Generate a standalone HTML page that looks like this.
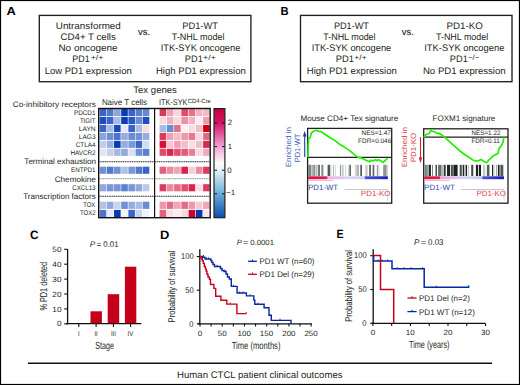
<!DOCTYPE html>
<html><head><meta charset="utf-8"><style>
html,body{margin:0;padding:0;background:#fff;width:520px;height:385px;overflow:hidden;}
svg{display:block;}
text{font-family:"Liberation Sans", sans-serif;text-rendering:geometricPrecision;}
</style></head><body>
<svg width="520" height="385" viewBox="0 0 520 385">
<rect width="520" height="385" fill="#fff"/>
<g fill="#231f20">
<rect x="0.5" y="0.5" width="519" height="384" fill="none" stroke="#000" stroke-width="1.2"/>
<line x1="28" y1="363.3" x2="492" y2="363.3" stroke="#111" stroke-width="1.4"/>
<text x="177.05" y="377.60" font-size="9.6">Human CTCL patient clinical outcomes</text>
<text x="6.58" y="15.10" font-size="11.6" font-weight="bold" fill="#000" textLength="9.34" lengthAdjust="spacingAndGlyphs">A</text>
<text x="280.47" y="14.90" font-size="11.6" font-weight="bold" fill="#000" textLength="8.11" lengthAdjust="spacingAndGlyphs">B</text>
<text x="29.91" y="238.50" font-size="12.1" font-weight="bold" fill="#000" textLength="8.54" lengthAdjust="spacingAndGlyphs">C</text>
<text x="160.00" y="238.50" font-size="12.1" font-weight="bold" fill="#000" textLength="9.32" lengthAdjust="spacingAndGlyphs">D</text>
<text x="336.55" y="238.30" font-size="12.1" font-weight="bold" fill="#000" textLength="7.05" lengthAdjust="spacingAndGlyphs">E</text>
<rect x="39.3" y="15.4" width="211.60" height="66.30" fill="none" stroke="#231f20" stroke-width="1.35"/>
<rect x="300.5" y="15.4" width="211.50" height="66.30" fill="none" stroke="#231f20" stroke-width="1.35"/>
<text x="55.82" y="28.90" font-size="9.5" textLength="64.99" lengthAdjust="spacingAndGlyphs">Untransformed</text>
<text x="60.59" y="39.90" font-size="9.5" textLength="55.24" lengthAdjust="spacingAndGlyphs">CD4+ T cells</text>
<text x="58.41" y="50.90" font-size="9.5" textLength="59.21" lengthAdjust="spacingAndGlyphs">No oncogene</text>
<text x="72.30" y="62.45" font-size="9.5" textLength="17.36" lengthAdjust="spacingAndGlyphs">PD1</text>
<text x="90.66" y="60.30" font-size="7.5" textLength="12.74" lengthAdjust="spacingAndGlyphs">+/+</text>
<text x="44.65" y="73.80" font-size="9.5">Low PD1 expression</text>
<text x="137.98" y="34.85" font-size="9.5" stroke="#231f20" stroke-width="0.12">vs.</text>
<text x="182.37" y="28.90" font-size="9.5" textLength="35.50" lengthAdjust="spacingAndGlyphs">PD1-WT</text>
<text x="171.86" y="39.90" font-size="9.5" textLength="52.71" lengthAdjust="spacingAndGlyphs">T-NHL model</text>
<text x="160.64" y="50.90" font-size="9.5" textLength="79.80" lengthAdjust="spacingAndGlyphs">ITK-SYK oncogene</text>
<text x="184.87" y="62.45" font-size="9.5" textLength="17.90" lengthAdjust="spacingAndGlyphs">PD1</text>
<text x="203.06" y="60.30" font-size="7.5" textLength="12.74" lengthAdjust="spacingAndGlyphs">+/+</text>
<text x="155.94" y="73.80" font-size="9.5" textLength="89.88" lengthAdjust="spacingAndGlyphs">High PD1 expression</text>
<text x="333.88" y="28.90" font-size="9.5" textLength="35.09" lengthAdjust="spacingAndGlyphs">PD1-WT</text>
<text x="323.26" y="39.90" font-size="9.5" textLength="52.31" lengthAdjust="spacingAndGlyphs">T-NHL model</text>
<text x="311.64" y="50.90" font-size="9.5" textLength="79.60" lengthAdjust="spacingAndGlyphs">ITK-SYK oncogene</text>
<text x="335.76" y="62.45" font-size="9.5" textLength="18.22" lengthAdjust="spacingAndGlyphs">PD1</text>
<text x="354.37" y="60.30" font-size="7.5" textLength="12.32" lengthAdjust="spacingAndGlyphs">+/+</text>
<text x="306.74" y="73.80" font-size="9.5" textLength="90.09" lengthAdjust="spacingAndGlyphs">High PD1 expression</text>
<text x="401.78" y="34.90" font-size="9.5" stroke="#231f20" stroke-width="0.12">vs.</text>
<text x="446.53" y="28.90" font-size="9.5" textLength="36.28" lengthAdjust="spacingAndGlyphs">PD1-KO</text>
<text x="435.96" y="39.90" font-size="9.5" textLength="52.31" lengthAdjust="spacingAndGlyphs">T-NHL model</text>
<text x="424.24" y="50.90" font-size="9.5" textLength="80.11" lengthAdjust="spacingAndGlyphs">ITK-SYK oncogene</text>
<text x="449.87" y="62.45" font-size="9.5" textLength="17.90" lengthAdjust="spacingAndGlyphs">PD1</text>
<text x="468.12" y="60.30" font-size="7.5" textLength="11.03" lengthAdjust="spacingAndGlyphs">−/−</text>
<text x="422.94" y="73.80" font-size="9.5" textLength="82.77" lengthAdjust="spacingAndGlyphs">No PD1 expression</text>
<text x="133.25" y="93.10" font-size="9.5" textLength="43.67" lengthAdjust="spacingAndGlyphs">Tex genes</text>
<text x="101.89" y="105.40" font-size="8.2" textLength="45.23" lengthAdjust="spacingAndGlyphs">Naive T cells</text>
<text x="159.03" y="105.20" font-size="8.2" textLength="28.47" lengthAdjust="spacingAndGlyphs">ITK-SYK</text>
<text x="187.64" y="103.20" font-size="6.1" textLength="23.25" lengthAdjust="spacingAndGlyphs">CD4-Cre</text>
<rect x="99.70" y="109.00" width="6.6" height="7.1" fill="#3a64c8"/>
<rect x="159.60" y="109.00" width="6.6" height="7.1" fill="#d83a5a"/>
<rect x="106.87" y="109.00" width="6.6" height="7.1" fill="#5078cc"/>
<rect x="166.85" y="109.00" width="6.6" height="7.1" fill="#eea0b4"/>
<rect x="114.04" y="109.00" width="6.6" height="7.1" fill="#8ca6dc"/>
<rect x="174.10" y="109.00" width="6.6" height="7.1" fill="#f8d4dc"/>
<rect x="121.21" y="109.00" width="6.6" height="7.1" fill="#0a3cb4"/>
<rect x="181.35" y="109.00" width="6.6" height="7.1" fill="#e04a6a"/>
<rect x="128.38" y="109.00" width="6.6" height="7.1" fill="#3a64c8"/>
<rect x="188.60" y="109.00" width="6.6" height="7.1" fill="#e8708a"/>
<rect x="135.55" y="109.00" width="6.6" height="7.1" fill="#5a80d0"/>
<rect x="195.85" y="109.00" width="6.6" height="7.1" fill="#f2b4c4"/>
<rect x="142.72" y="109.00" width="6.6" height="7.1" fill="#6488d2"/>
<rect x="203.10" y="109.00" width="6.6" height="7.1" fill="#f2b8c6"/>
<rect x="99.70" y="116.95" width="6.6" height="7.1" fill="#1e4cbc"/>
<rect x="159.60" y="116.95" width="6.6" height="7.1" fill="#fadadf"/>
<rect x="106.87" y="116.95" width="6.6" height="7.1" fill="#3a64c8"/>
<rect x="166.85" y="116.95" width="6.6" height="7.1" fill="#f2b0c0"/>
<rect x="114.04" y="116.95" width="6.6" height="7.1" fill="#a8bce4"/>
<rect x="174.10" y="116.95" width="6.6" height="7.1" fill="#f8d8e0"/>
<rect x="121.21" y="116.95" width="6.6" height="7.1" fill="#0a3cb4"/>
<rect x="181.35" y="116.95" width="6.6" height="7.1" fill="#ec90a6"/>
<rect x="128.38" y="116.95" width="6.6" height="7.1" fill="#2a58c0"/>
<rect x="188.60" y="116.95" width="6.6" height="7.1" fill="#f2b4c4"/>
<rect x="135.55" y="116.95" width="6.6" height="7.1" fill="#6a8cd4"/>
<rect x="195.85" y="116.95" width="6.6" height="7.1" fill="#fcecf0"/>
<rect x="142.72" y="116.95" width="6.6" height="7.1" fill="#1e4cbc"/>
<rect x="203.10" y="116.95" width="6.6" height="7.1" fill="#ee9cb0"/>
<rect x="99.70" y="124.90" width="6.6" height="7.1" fill="#3a64c8"/>
<rect x="159.60" y="124.90" width="6.6" height="7.1" fill="#a4bce6"/>
<rect x="106.87" y="124.90" width="6.6" height="7.1" fill="#a8bce4"/>
<rect x="166.85" y="124.90" width="6.6" height="7.1" fill="#6a8cd4"/>
<rect x="114.04" y="124.90" width="6.6" height="7.1" fill="#1a48bc"/>
<rect x="174.10" y="124.90" width="6.6" height="7.1" fill="#e47088"/>
<rect x="121.21" y="124.90" width="6.6" height="7.1" fill="#e4e8f6"/>
<rect x="181.35" y="124.90" width="6.6" height="7.1" fill="#fdf0f2"/>
<rect x="128.38" y="124.90" width="6.6" height="7.1" fill="#3a64c8"/>
<rect x="188.60" y="124.90" width="6.6" height="7.1" fill="#fadce2"/>
<rect x="135.55" y="124.90" width="6.6" height="7.1" fill="#a8bce4"/>
<rect x="195.85" y="124.90" width="6.6" height="7.1" fill="#f4bccb"/>
<rect x="142.72" y="124.90" width="6.6" height="7.1" fill="#fadadf"/>
<rect x="203.10" y="124.90" width="6.6" height="7.1" fill="#d20010"/>
<rect x="99.70" y="132.85" width="6.6" height="7.1" fill="#8aa4dc"/>
<rect x="159.60" y="132.85" width="6.6" height="7.1" fill="#dc3c5c"/>
<rect x="106.87" y="132.85" width="6.6" height="7.1" fill="#6a8cd4"/>
<rect x="166.85" y="132.85" width="6.6" height="7.1" fill="#f0a0b4"/>
<rect x="114.04" y="132.85" width="6.6" height="7.1" fill="#4c74cc"/>
<rect x="174.10" y="132.85" width="6.6" height="7.1" fill="#f4bcca"/>
<rect x="121.21" y="132.85" width="6.6" height="7.1" fill="#94acde"/>
<rect x="181.35" y="132.85" width="6.6" height="7.1" fill="#ee98ac"/>
<rect x="128.38" y="132.85" width="6.6" height="7.1" fill="#6a8cd4"/>
<rect x="188.60" y="132.85" width="6.6" height="7.1" fill="#e87890"/>
<rect x="135.55" y="132.85" width="6.6" height="7.1" fill="#7090d6"/>
<rect x="195.85" y="132.85" width="6.6" height="7.1" fill="#f8d8e0"/>
<rect x="142.72" y="132.85" width="6.6" height="7.1" fill="#94acde"/>
<rect x="203.10" y="132.85" width="6.6" height="7.1" fill="#e06a84"/>
<rect x="99.70" y="140.80" width="6.6" height="7.1" fill="#c0cfec"/>
<rect x="159.60" y="140.80" width="6.6" height="7.1" fill="#d8103c"/>
<rect x="106.87" y="140.80" width="6.6" height="7.1" fill="#9ab0e0"/>
<rect x="166.85" y="140.80" width="6.6" height="7.1" fill="#f6c4d0"/>
<rect x="114.04" y="140.80" width="6.6" height="7.1" fill="#0a3cb4"/>
<rect x="174.10" y="140.80" width="6.6" height="7.1" fill="#f0a0b4"/>
<rect x="121.21" y="140.80" width="6.6" height="7.1" fill="#94acde"/>
<rect x="181.35" y="140.80" width="6.6" height="7.1" fill="#f4bccb"/>
<rect x="128.38" y="140.80" width="6.6" height="7.1" fill="#7a98d8"/>
<rect x="188.60" y="140.80" width="6.6" height="7.1" fill="#fadde4"/>
<rect x="135.55" y="140.80" width="6.6" height="7.1" fill="#3a64c8"/>
<rect x="195.85" y="140.80" width="6.6" height="7.1" fill="#f4bcca"/>
<rect x="142.72" y="140.80" width="6.6" height="7.1" fill="#d0dcf0"/>
<rect x="203.10" y="140.80" width="6.6" height="7.1" fill="#d82a50"/>
<rect x="99.70" y="148.75" width="6.6" height="7.1" fill="#e0e6f6"/>
<rect x="159.60" y="148.75" width="6.6" height="7.1" fill="#e04a6a"/>
<rect x="106.87" y="148.75" width="6.6" height="7.1" fill="#c4d2ee"/>
<rect x="166.85" y="148.75" width="6.6" height="7.1" fill="#d8264c"/>
<rect x="114.04" y="148.75" width="6.6" height="7.1" fill="#a4b8e2"/>
<rect x="174.10" y="148.75" width="6.6" height="7.1" fill="#e0506e"/>
<rect x="121.21" y="148.75" width="6.6" height="7.1" fill="#90a8de"/>
<rect x="181.35" y="148.75" width="6.6" height="7.1" fill="#e45a76"/>
<rect x="128.38" y="148.75" width="6.6" height="7.1" fill="#d8e0f4"/>
<rect x="188.60" y="148.75" width="6.6" height="7.1" fill="#e87e96"/>
<rect x="135.55" y="148.75" width="6.6" height="7.1" fill="#7090d6"/>
<rect x="195.85" y="148.75" width="6.6" height="7.1" fill="#fadae2"/>
<rect x="142.72" y="148.75" width="6.6" height="7.1" fill="#5a80d0"/>
<rect x="203.10" y="148.75" width="6.6" height="7.1" fill="#f0a8ba"/>
<rect x="99.70" y="166.70" width="6.6" height="7.1" fill="#7090d6"/>
<rect x="159.60" y="166.70" width="6.6" height="7.1" fill="#e4607c"/>
<rect x="106.87" y="166.70" width="6.6" height="7.1" fill="#5078cc"/>
<rect x="166.85" y="166.70" width="6.6" height="7.1" fill="#ec8aa0"/>
<rect x="114.04" y="166.70" width="6.6" height="7.1" fill="#7090d6"/>
<rect x="174.10" y="166.70" width="6.6" height="7.1" fill="#f0a4b6"/>
<rect x="121.21" y="166.70" width="6.6" height="7.1" fill="#b0c2e6"/>
<rect x="181.35" y="166.70" width="6.6" height="7.1" fill="#d8204a"/>
<rect x="128.38" y="166.70" width="6.6" height="7.1" fill="#7a98d8"/>
<rect x="188.60" y="166.70" width="6.6" height="7.1" fill="#f8ccd6"/>
<rect x="135.55" y="166.70" width="6.6" height="7.1" fill="#5078cc"/>
<rect x="195.85" y="166.70" width="6.6" height="7.1" fill="#ec8aa0"/>
<rect x="142.72" y="166.70" width="6.6" height="7.1" fill="#3a64c8"/>
<rect x="203.10" y="166.70" width="6.6" height="7.1" fill="#dc3a5c"/>
<rect x="99.70" y="184.20" width="6.6" height="7.1" fill="#90a8de"/>
<rect x="159.60" y="184.20" width="6.6" height="7.1" fill="#dc3c5e"/>
<rect x="106.87" y="184.20" width="6.6" height="7.1" fill="#7896d8"/>
<rect x="166.85" y="184.20" width="6.6" height="7.1" fill="#ec88a0"/>
<rect x="114.04" y="184.20" width="6.6" height="7.1" fill="#7896d8"/>
<rect x="174.10" y="184.20" width="6.6" height="7.1" fill="#e46e88"/>
<rect x="121.21" y="184.20" width="6.6" height="7.1" fill="#5a80d0"/>
<rect x="181.35" y="184.20" width="6.6" height="7.1" fill="#e05070"/>
<rect x="128.38" y="184.20" width="6.6" height="7.1" fill="#7896d8"/>
<rect x="188.60" y="184.20" width="6.6" height="7.1" fill="#d8264e"/>
<rect x="135.55" y="184.20" width="6.6" height="7.1" fill="#90a8de"/>
<rect x="195.85" y="184.20" width="6.6" height="7.1" fill="#fadee4"/>
<rect x="142.72" y="184.20" width="6.6" height="7.1" fill="#b8c8ea"/>
<rect x="203.10" y="184.20" width="6.6" height="7.1" fill="#dc3c5e"/>
<rect x="99.70" y="201.70" width="6.6" height="7.2" fill="#b0c2e6"/>
<rect x="159.60" y="201.70" width="6.6" height="7.2" fill="#ee96aa"/>
<rect x="106.87" y="201.70" width="6.6" height="7.2" fill="#90a8de"/>
<rect x="166.85" y="201.70" width="6.6" height="7.2" fill="#e46a86"/>
<rect x="114.04" y="201.70" width="6.6" height="7.2" fill="#c8d4ee"/>
<rect x="174.10" y="201.70" width="6.6" height="7.2" fill="#f0a4b6"/>
<rect x="121.21" y="201.70" width="6.6" height="7.2" fill="#7090d6"/>
<rect x="181.35" y="201.70" width="6.6" height="7.2" fill="#e46a86"/>
<rect x="128.38" y="201.70" width="6.6" height="7.2" fill="#94acde"/>
<rect x="188.60" y="201.70" width="6.6" height="7.2" fill="#ee96aa"/>
<rect x="135.55" y="201.70" width="6.6" height="7.2" fill="#a8bce4"/>
<rect x="195.85" y="201.70" width="6.6" height="7.2" fill="#f6c8d2"/>
<rect x="142.72" y="201.70" width="6.6" height="7.2" fill="#6a8cd4"/>
<rect x="203.10" y="201.70" width="6.6" height="7.2" fill="#f0a8b8"/>
<rect x="99.70" y="209.90" width="6.6" height="7.4" fill="#4c74cc"/>
<rect x="159.60" y="209.90" width="6.6" height="7.4" fill="#e4607c"/>
<rect x="106.87" y="209.90" width="6.6" height="7.4" fill="#e4eaf6"/>
<rect x="166.85" y="209.90" width="6.6" height="7.4" fill="#fae0e6"/>
<rect x="114.04" y="209.90" width="6.6" height="7.4" fill="#0a36b0"/>
<rect x="174.10" y="209.90" width="6.6" height="7.4" fill="#fcecf0"/>
<rect x="121.21" y="209.90" width="6.6" height="7.4" fill="#f0f3fa"/>
<rect x="181.35" y="209.90" width="6.6" height="7.4" fill="#f8d8e0"/>
<rect x="128.38" y="209.90" width="6.6" height="7.4" fill="#3a64c8"/>
<rect x="188.60" y="209.90" width="6.6" height="7.4" fill="#d40030"/>
<rect x="135.55" y="209.90" width="6.6" height="7.4" fill="#c8d4ee"/>
<rect x="195.85" y="209.90" width="6.6" height="7.4" fill="#0a36b0"/>
<rect x="142.72" y="209.90" width="6.6" height="7.4" fill="#eef2fa"/>
<rect x="203.10" y="209.90" width="6.6" height="7.4" fill="#fce4ea"/>
<line x1="99.5" y1="161.8" x2="209.6" y2="161.8" stroke="#222" stroke-width="1.1" stroke-dasharray="1.2 0.6"/>
<line x1="99.5" y1="178.7" x2="209.6" y2="178.7" stroke="#8a8a8a" stroke-width="1.1" stroke-dasharray="1.2 0.6"/>
<line x1="99.5" y1="196.2" x2="209.6" y2="196.2" stroke="#222" stroke-width="1.1" stroke-dasharray="1.2 0.6"/>
<rect x="98.7" y="108.5" width="111.5" height="109.2" fill="none" stroke="#111" stroke-width="1.4"/>
<line x1="154.6" y1="108.5" x2="154.6" y2="217.7" stroke="#111" stroke-width="1.2"/>
<text x="73.92" y="114.80" font-size="6.7" textLength="21.56" lengthAdjust="spacingAndGlyphs">PDCD1</text>
<text x="79.89" y="122.80" font-size="6.7" textLength="15.51" lengthAdjust="spacingAndGlyphs">TIGIT</text>
<text x="78.80" y="130.70" font-size="6.7" textLength="16.88" lengthAdjust="spacingAndGlyphs">LAYN</text>
<text x="78.81" y="138.60" font-size="6.7" textLength="16.74" lengthAdjust="spacingAndGlyphs">LAG3</text>
<text x="75.75" y="146.50" font-size="6.7" textLength="19.65" lengthAdjust="spacingAndGlyphs">CTLA4</text>
<text x="70.43" y="154.60" font-size="6.7" textLength="25.14" lengthAdjust="spacingAndGlyphs">HAVCR2</text>
<text x="71.04" y="172.00" font-size="6.7" textLength="24.53" lengthAdjust="spacingAndGlyphs">ENTPD1</text>
<text x="72.36" y="190.10" font-size="6.7" textLength="23.10" lengthAdjust="spacingAndGlyphs">CXCL13</text>
<text x="83.19" y="207.00" font-size="6.7" textLength="12.14" lengthAdjust="spacingAndGlyphs">TOX</text>
<text x="79.89" y="215.00" font-size="6.7" textLength="15.64" lengthAdjust="spacingAndGlyphs">TOX2</text>
<text x="12.71" y="106.80" font-size="8.0" textLength="83.16" lengthAdjust="spacingAndGlyphs">Co-inhibitory receptors</text>
<text x="24.37" y="164.10" font-size="8.0" textLength="71.66" lengthAdjust="spacingAndGlyphs">Terminal exhaustion</text>
<text x="54.72" y="181.50" font-size="8.0" textLength="41.13" lengthAdjust="spacingAndGlyphs">Chemokine</text>
<text x="23.17" y="198.70" font-size="8.0" textLength="72.62" lengthAdjust="spacingAndGlyphs">Transcription factors</text>
<defs><linearGradient id="cb" x1="0" y1="0" x2="0" y2="1"><stop offset="0" stop-color="#cc0038"/><stop offset="0.133" stop-color="#d4146a"/><stop offset="0.35" stop-color="#f0a4d4"/><stop offset="0.5" stop-color="#fff8fc"/><stop offset="0.56" stop-color="#e8f4f6"/><stop offset="0.78" stop-color="#6aaed6"/><stop offset="1" stop-color="#0a4cb0"/></linearGradient></defs>
<rect x="214.0" y="108.6" width="10.9" height="109.1" fill="url(#cb)" stroke="#222" stroke-width="1.2"/>
<line x1="214.6" y1="123.0" x2="217" y2="123.0" stroke="#111" stroke-width="1"/>
<line x1="222" y1="123.0" x2="224.4" y2="123.0" stroke="#111" stroke-width="1"/>
<line x1="214.6" y1="146.6" x2="217" y2="146.6" stroke="#111" stroke-width="1"/>
<line x1="222" y1="146.6" x2="224.4" y2="146.6" stroke="#111" stroke-width="1"/>
<line x1="214.6" y1="170.2" x2="217" y2="170.2" stroke="#111" stroke-width="1"/>
<line x1="222" y1="170.2" x2="224.4" y2="170.2" stroke="#111" stroke-width="1"/>
<line x1="214.6" y1="193.8" x2="217" y2="193.8" stroke="#111" stroke-width="1"/>
<line x1="222" y1="193.8" x2="224.4" y2="193.8" stroke="#111" stroke-width="1"/>
<text x="227.82" y="125.30" font-size="7.8">2</text>
<text x="227.78" y="148.90" font-size="7.8">1</text>
<text x="227.35" y="172.50" font-size="7.8">0</text>
<text x="226.01" y="195.30" font-size="7.8" textLength="9.19" lengthAdjust="spacingAndGlyphs">−1</text>
<defs><linearGradient id="g1" x1="0" x2="1"><stop offset="0" stop-color="#d81040"/><stop offset="0.235" stop-color="#e02050"/><stop offset="0.245" stop-color="#f0b0e0"/><stop offset="0.44" stop-color="#e8c4f0"/><stop offset="0.46" stop-color="#d8d8f4"/><stop offset="0.705" stop-color="#d0d0f4"/><stop offset="0.72" stop-color="#4850d0"/><stop offset="0.9" stop-color="#3038c8"/><stop offset="1" stop-color="#1010c0"/></linearGradient><linearGradient id="g2" x1="0" x2="1"><stop offset="0" stop-color="#d81040"/><stop offset="0.19" stop-color="#e02050"/><stop offset="0.2" stop-color="#e8a0d0"/><stop offset="0.44" stop-color="#e8c0f0"/><stop offset="0.46" stop-color="#d4d4f4"/><stop offset="0.72" stop-color="#c8c8f0"/><stop offset="0.735" stop-color="#5058d0"/><stop offset="0.9" stop-color="#3030c8"/><stop offset="1" stop-color="#1010b8"/></linearGradient></defs>
<rect x="307.6" y="128.4" width="84.10" height="74.80" fill="none" stroke="#231f20" stroke-width="1.3"/>
<line x1="307.6" y1="157.3" x2="391.7" y2="157.3" stroke="#231f20" stroke-width="1.2"/>
<polyline points="307.9,157.3 308.2,145 308.8,138.1 310,137.7 310.8,135.2 311.1,133.5 312,132.3 314,131 316,130.3 318,131.1 320,131.3 322,132.2 325,134.2 330,137.7 335,140.6 340,144.6 345,147.6 350,150.9 355,155.1 358,157.4 362,158.2 366,160.2 369.5,161.8 371,160.2 373,161 375,159.8 377,160.6 378.5,159.8 380.5,160.6 383,162.7 385.5,160.2 387.5,158.5" fill="none" stroke="#22ee00" stroke-width="1.7" stroke-linejoin="round"/>
<rect x="308.1" y="164.8" width="3.0" height="11.3" fill="#7e8787"/>
<rect x="311.5" y="164.8" width="1.3" height="11.3" fill="#9ba2a2"/>
<rect x="313.2" y="164.8" width="2.1" height="11.3" fill="#8c9393"/>
<rect x="315.7" y="164.8" width="1.7" height="11.3" fill="#b7bfbf"/>
<rect x="317.9" y="164.8" width="2.1" height="11.3" fill="#6f7777"/>
<rect x="321.3" y="164.8" width="2.1" height="11.3" fill="#858c8c"/>
<rect x="327.6" y="164.8" width="2.6" height="11.3" fill="#535a5a"/>
<rect x="330.5" y="164.8" width="0.9" height="11.3" fill="#c6cdcd"/>
<rect x="333.1" y="164.8" width="0.9" height="11.3" fill="#a9b0b0"/>
<rect x="335.2" y="164.8" width="0.8" height="11.3" fill="#cdd4d4"/>
<rect x="339.9" y="164.8" width="1.3" height="11.3" fill="#959b9b"/>
<rect x="342" y="164.8" width="1.7" height="11.3" fill="#c6cdcd"/>
<rect x="345" y="164.8" width="1.2" height="11.3" fill="#d4dbdb"/>
<rect x="348.4" y="164.8" width="1.6" height="11.3" fill="#b0b7b7"/>
<rect x="349.7" y="164.8" width="1.3" height="11.3" fill="#616868"/>
<rect x="355.2" y="164.8" width="1.3" height="11.3" fill="#c6cdcd"/>
<rect x="356.5" y="164.8" width="2.5" height="11.3" fill="#b0b7b7"/>
<rect x="360.3" y="164.8" width="1.7" height="11.3" fill="#535a5a"/>
<rect x="365.4" y="164.8" width="2.1" height="11.3" fill="#bfc6c6"/>
<rect x="369.2" y="164.8" width="1.7" height="11.3" fill="#535a5a"/>
<rect x="372.6" y="164.8" width="1.7" height="11.3" fill="#616868"/>
<rect x="376.8" y="164.8" width="1.2" height="11.3" fill="#9ba2a2"/>
<rect x="378.2" y="164.8" width="1.2" height="11.3" fill="#cdd4d4"/>
<rect x="383.2" y="164.8" width="3.4" height="11.3" fill="#8c9393"/>
<rect x="386.6" y="164.8" width="1.2" height="11.3" fill="#bfc6c6"/>
<rect x="308.2" y="176.3" width="79.6" height="2.9" fill="url(#g1)"/>
<line x1="344.6" y1="189.5" x2="387.7" y2="189.5" stroke="#b8bcbc" stroke-width="0.8"/>
<line x1="387.7" y1="189.5" x2="387.7" y2="200.8" stroke="#c8cccc" stroke-width="0.8"/>
<line x1="308.6" y1="180.4" x2="333.6" y2="180.4" stroke="#f0a0c0" stroke-width="0.8"/>
<rect x="423.7" y="128.8" width="84.30" height="74.40" fill="none" stroke="#231f20" stroke-width="1.3"/>
<line x1="423.7" y1="137.1" x2="508.0" y2="137.1" stroke="#231f20" stroke-width="1.2"/>
<polyline points="423.9,137.5 426,134.4 428,134 429.5,133.3 430.5,130.8 431,130 432,131.3 434,131.5 436,132.8 438,133.1 441,134.4 443,135.9 446,138.4 450,142.2 455,146.6 460,151 465,154.8 470,158 474,160.6 478,161 481,159.5 484,161.5 486.5,162.7 489,159.9 491,158.2 493.5,155.7 496,154.4 498,153.5 499,148.6 501,146 503,142.3 504,137.3" fill="none" stroke="#22ee00" stroke-width="1.7" stroke-linejoin="round"/>
<rect x="424.1" y="164.8" width="4.3" height="11.3" fill="#88a098"/>
<rect x="425.5" y="164.8" width="0.8" height="11.3" fill="#607068"/>
<rect x="428.8" y="164.8" width="2.1" height="11.3" fill="#202020"/>
<rect x="432.2" y="164.8" width="0.8" height="11.3" fill="#606868"/>
<rect x="435.6" y="164.8" width="1.2" height="11.3" fill="#202020"/>
<rect x="438.1" y="164.8" width="3.4" height="11.3" fill="#607068"/>
<rect x="442.3" y="164.8" width="1.3" height="11.3" fill="#909898"/>
<rect x="444" y="164.8" width="1.7" height="11.3" fill="#303838"/>
<rect x="447" y="164.8" width="3.0" height="11.3" fill="#202828"/>
<rect x="450.8" y="164.8" width="2.1" height="11.3" fill="#4a5050"/>
<rect x="453.4" y="164.8" width="4.2" height="11.3" fill="#202020"/>
<rect x="459.7" y="164.8" width="2.1" height="11.3" fill="#4a5050"/>
<rect x="462.7" y="164.8" width="1.3" height="11.3" fill="#202020"/>
<rect x="464.3" y="164.8" width="1.0" height="11.3" fill="#a0a8a8"/>
<rect x="465.7" y="164.8" width="1.3" height="11.3" fill="#202020"/>
<rect x="467.8" y="164.8" width="1.3" height="11.3" fill="#c0c8c8"/>
<rect x="471.2" y="164.8" width="2.1" height="11.3" fill="#404848"/>
<rect x="475.9" y="164.8" width="2.1" height="11.3" fill="#202020"/>
<rect x="478.8" y="164.8" width="2.2" height="11.3" fill="#202020"/>
<rect x="483.1" y="164.8" width="2.1" height="11.3" fill="#c0c8c8"/>
<rect x="486.9" y="164.8" width="2.5" height="11.3" fill="#506060"/>
<rect x="492" y="164.8" width="1.2" height="11.3" fill="#202020"/>
<rect x="493.5" y="164.8" width="1.2" height="11.3" fill="#c8d0d0"/>
<rect x="496.2" y="164.8" width="0.8" height="11.3" fill="#909898"/>
<rect x="497.9" y="164.8" width="1.7" height="11.3" fill="#202020"/>
<rect x="500.4" y="164.8" width="2.6" height="11.3" fill="#4a5858"/>
<rect x="503" y="164.8" width="0.9" height="11.3" fill="#c0c8c8"/>
<rect x="424.3" y="176.3" width="79.6" height="2.9" fill="url(#g2)"/>
<line x1="460.7" y1="189.5" x2="504.0" y2="189.5" stroke="#b8bcbc" stroke-width="0.8"/>
<line x1="504.0" y1="189.5" x2="504.0" y2="200.8" stroke="#c8cccc" stroke-width="0.8"/>
<line x1="424.7" y1="180.4" x2="449.7" y2="180.4" stroke="#f0a0c0" stroke-width="0.8"/>
<text x="300.57" y="121.20" font-size="8.0" textLength="97.76" lengthAdjust="spacingAndGlyphs">Mouse CD4+ Tex signature</text>
<text x="432.58" y="121.10" font-size="8.0">FOXM1 signature</text>
<text x="361.51" y="135.00" font-size="6.6" textLength="29.45" lengthAdjust="spacingAndGlyphs">NES=1.47</text>
<text x="358.11" y="142.80" font-size="6.6" textLength="33.16" lengthAdjust="spacingAndGlyphs">FDR=0.046</text>
<text x="471.42" y="135.40" font-size="6.6" textLength="29.04" lengthAdjust="spacingAndGlyphs">NES=1.22</text>
<text x="471.42" y="143.20" font-size="6.6" textLength="28.42" lengthAdjust="spacingAndGlyphs">FDR=0.11</text>
<text x="308.16" y="189.60" font-size="7.6" fill="#2a4aa8" textLength="29.99" lengthAdjust="spacingAndGlyphs">PD1-WT</text>
<text x="360.85" y="195.70" font-size="7.6" fill="#e0404c" textLength="29.58" lengthAdjust="spacingAndGlyphs">PD1-KO</text>
<text x="424.14" y="189.60" font-size="7.6" fill="#2a4aa8" textLength="30.71" lengthAdjust="spacingAndGlyphs">PD1-WT</text>
<text x="476.45" y="195.70" font-size="7.6" fill="#e0404c" textLength="29.37" lengthAdjust="spacingAndGlyphs">PD1-KO</text>
<text transform="translate(291.00,167.26) rotate(-90)" x="0" y="0" font-size="7.6" fill="#4464bc" textLength="40.19" lengthAdjust="spacingAndGlyphs">Enriched in</text>
<text transform="translate(299.50,162.32) rotate(-90)" x="0" y="0" font-size="7.6" fill="#4464bc" textLength="28.75" lengthAdjust="spacingAndGlyphs">PD1-WT</text>
<text transform="translate(407.00,167.26) rotate(-90)" x="0" y="0" font-size="7.6" fill="#e0404c" textLength="40.19" lengthAdjust="spacingAndGlyphs">Enriched in</text>
<text transform="translate(415.70,162.35) rotate(-90)" x="0" y="0" font-size="7.6" fill="#e0404c" textLength="29.58" lengthAdjust="spacingAndGlyphs">PD1-KO</text>
<line x1="304.7" y1="156.9" x2="304.7" y2="134" stroke="#1c3ca8" stroke-width="1.1"/>
<path d="M304.7,130.7 L302.9,136.5 L306.5,136.5 Z" fill="#1c3ca8"/>
<line x1="420.5" y1="137" x2="420.5" y2="159" stroke="#d8202c" stroke-width="1.1"/>
<path d="M420.5,163.2 L418.7,157.4 L422.3,157.4 Z" fill="#d8202c"/>
<line x1="67.6" y1="249.1" x2="67.6" y2="324.3" stroke="#111" stroke-width="1.3"/>
<line x1="66" y1="323.7" x2="141.3" y2="323.7" stroke="#111" stroke-width="1.3"/>
<line x1="64.2" y1="323.80" x2="67.6" y2="323.80" stroke="#111" stroke-width="1.1"/>
<line x1="64.2" y1="308.90" x2="67.6" y2="308.90" stroke="#111" stroke-width="1.1"/>
<line x1="64.2" y1="294.00" x2="67.6" y2="294.00" stroke="#111" stroke-width="1.1"/>
<line x1="64.2" y1="279.10" x2="67.6" y2="279.10" stroke="#111" stroke-width="1.1"/>
<line x1="64.2" y1="264.20" x2="67.6" y2="264.20" stroke="#111" stroke-width="1.1"/>
<line x1="64.2" y1="249.30" x2="67.6" y2="249.30" stroke="#111" stroke-width="1.1"/>
<text x="56.91" y="326.40" font-size="7.6" textLength="4.57" lengthAdjust="spacingAndGlyphs">0</text>
<text x="52.33" y="311.50" font-size="7.6" textLength="9.13" lengthAdjust="spacingAndGlyphs">10</text>
<text x="52.33" y="296.60" font-size="7.6" textLength="9.13" lengthAdjust="spacingAndGlyphs">20</text>
<text x="52.33" y="281.70" font-size="7.6" textLength="9.13" lengthAdjust="spacingAndGlyphs">30</text>
<text x="52.33" y="266.80" font-size="7.6" textLength="9.13" lengthAdjust="spacingAndGlyphs">40</text>
<text x="52.33" y="251.90" font-size="7.6" textLength="9.13" lengthAdjust="spacingAndGlyphs">50</text>
<line x1="78.8" y1="323.7" x2="78.8" y2="327.0" stroke="#111" stroke-width="1.1"/>
<text x="78.00" y="335.80" font-size="7.0" textLength="1.66" lengthAdjust="spacingAndGlyphs">I</text>
<line x1="96.1" y1="323.7" x2="96.1" y2="327.0" stroke="#111" stroke-width="1.1"/>
<text x="94.45" y="335.80" font-size="7.0" textLength="3.31" lengthAdjust="spacingAndGlyphs">II</text>
<line x1="113.4" y1="323.7" x2="113.4" y2="327.0" stroke="#111" stroke-width="1.1"/>
<text x="110.96" y="335.80" font-size="7.0" textLength="4.97" lengthAdjust="spacingAndGlyphs">III</text>
<line x1="130.6" y1="323.7" x2="130.6" y2="327.0" stroke="#111" stroke-width="1.1"/>
<text x="127.57" y="335.80" font-size="7.0" textLength="5.63" lengthAdjust="spacingAndGlyphs">IV</text>
<rect x="90.5" y="311.3" width="11.40" height="11.90" fill="#c4001a"/>
<rect x="107.7" y="294.2" width="11.50" height="29.00" fill="#c4001a"/>
<rect x="124.9" y="266.7" width="11.40" height="56.50" fill="#c4001a"/>
<text x="95.15" y="348.90" font-size="10.3" textLength="18.74" lengthAdjust="spacingAndGlyphs">Stage</text>
<text transform="translate(47.10,310.57) rotate(-90)" x="0" y="0" font-size="10.2" textLength="48.68" lengthAdjust="spacingAndGlyphs">% PD1 deleted</text>
<text x="89.65" y="247.40" font-size="8.1" font-style="italic">P</text>
<text x="96.74" y="247.40" font-size="8.1" textLength="4.50" lengthAdjust="spacingAndGlyphs">=</text>
<text x="103.34" y="247.40" font-size="8.1" textLength="15.24" lengthAdjust="spacingAndGlyphs">0.01</text>
<line x1="199.8" y1="249.3" x2="199.8" y2="324.3" stroke="#111" stroke-width="1.3"/>
<line x1="198" y1="323.8" x2="311.8" y2="323.8" stroke="#111" stroke-width="1.3"/>
<line x1="196.8" y1="323.80" x2="199.8" y2="323.80" stroke="#111" stroke-width="1.1"/>
<text x="189.36" y="326.55" font-size="8.4" textLength="4.20" lengthAdjust="spacingAndGlyphs">0</text>
<line x1="196.8" y1="290.18" x2="199.8" y2="290.18" stroke="#111" stroke-width="1.1"/>
<text x="185.20" y="292.93" font-size="8.4" textLength="8.40" lengthAdjust="spacingAndGlyphs">50</text>
<line x1="196.8" y1="256.55" x2="199.8" y2="256.55" stroke="#111" stroke-width="1.1"/>
<text x="181.04" y="259.30" font-size="8.4" textLength="12.59" lengthAdjust="spacingAndGlyphs">100</text>
<line x1="200.00" y1="323.8" x2="200.00" y2="326.4" stroke="#111" stroke-width="1.1"/>
<text x="197.83" y="335.80" font-size="7.6" textLength="4.45" lengthAdjust="spacingAndGlyphs">0</text>
<line x1="211.11" y1="323.8" x2="211.11" y2="326.4" stroke="#111" stroke-width="1.1"/>
<line x1="222.22" y1="323.8" x2="222.22" y2="326.4" stroke="#111" stroke-width="1.1"/>
<text x="217.76" y="335.80" font-size="7.6" textLength="8.88" lengthAdjust="spacingAndGlyphs">50</text>
<line x1="233.34" y1="323.8" x2="233.34" y2="326.4" stroke="#111" stroke-width="1.1"/>
<line x1="244.45" y1="323.8" x2="244.45" y2="326.4" stroke="#111" stroke-width="1.1"/>
<text x="237.62" y="335.80" font-size="7.6" textLength="13.31" lengthAdjust="spacingAndGlyphs">100</text>
<line x1="255.56" y1="323.8" x2="255.56" y2="326.4" stroke="#111" stroke-width="1.1"/>
<line x1="266.68" y1="323.8" x2="266.68" y2="326.4" stroke="#111" stroke-width="1.1"/>
<text x="259.85" y="335.80" font-size="7.6" textLength="13.31" lengthAdjust="spacingAndGlyphs">150</text>
<line x1="277.79" y1="323.8" x2="277.79" y2="326.4" stroke="#111" stroke-width="1.1"/>
<line x1="288.90" y1="323.8" x2="288.90" y2="326.4" stroke="#111" stroke-width="1.1"/>
<text x="282.21" y="335.80" font-size="7.6" textLength="13.31" lengthAdjust="spacingAndGlyphs">200</text>
<line x1="300.01" y1="323.8" x2="300.01" y2="326.4" stroke="#111" stroke-width="1.1"/>
<line x1="311.12" y1="323.8" x2="311.12" y2="326.4" stroke="#111" stroke-width="1.1"/>
<text x="304.43" y="335.80" font-size="7.6" textLength="13.31" lengthAdjust="spacingAndGlyphs">250</text>
<text x="231.72" y="348.80" font-size="10.3" textLength="48.75" lengthAdjust="spacingAndGlyphs">Time (months)</text>
<text transform="translate(174.90,322.38) rotate(-90)" x="0" y="0" font-size="9.8" textLength="71.83" lengthAdjust="spacingAndGlyphs">Probability of survival</text>
<text x="236.65" y="244.90" font-size="7.6" font-style="italic" textLength="5.13" lengthAdjust="spacingAndGlyphs">P</text>
<text x="243.06" y="244.90" font-size="7.6" textLength="5.26" lengthAdjust="spacingAndGlyphs">=</text>
<text x="250.35" y="244.90" font-size="7.6" textLength="23.62" lengthAdjust="spacingAndGlyphs">0.0001</text>
<path d="M200,256.5 H202.5 V257.2 H205 V259 H210.8 V260.5 H211.8 V262.5 H213 V264.5 H214.5 V266.5 H220.5 V268.5 H222 V270.5 H224 V271.5 H226 V274 H227.5 V277 H229.3 V279 H231.3 V286.4 H237.1 V293 H246.4 V295.9 H253.8 V300.1 H254.8 V304.2 H264.1 V307.8 H269 V315.3 H271.3 V320.4 H291 V323.6" fill="none" stroke="#0428a4" stroke-width="1.4"/>
<path d="M200,256.8 H201.2 V258.8 H202.3 V260.8 H203.3 V263.4 H204.3 V266.5 H205.4 V269.1 H206.2 V271.2 H207 V274.3 H208 V277 H209.4 V279.2 H210.5 V284.5 H213.9 V288.4 H215.7 V296.2 H220.9 V300.2 H226.8 V304.1 H236.9 V313.6 H246.3" fill="none" stroke="#c8001a" stroke-width="1.4"/>
<line x1="203.5" y1="256.6" x2="203.5" y2="255.00000000000003" stroke="#0428a4" stroke-width="0.9"/>
<line x1="206.5" y1="259" x2="206.5" y2="257.4" stroke="#0428a4" stroke-width="0.9"/>
<line x1="208.5" y1="259" x2="208.5" y2="257.4" stroke="#0428a4" stroke-width="0.9"/>
<line x1="217" y1="266.5" x2="217" y2="264.9" stroke="#0428a4" stroke-width="0.9"/>
<line x1="225" y1="271.5" x2="225" y2="269.9" stroke="#0428a4" stroke-width="0.9"/>
<line x1="233.5" y1="286.4" x2="233.5" y2="284.79999999999995" stroke="#0428a4" stroke-width="0.9"/>
<line x1="239.7" y1="293" x2="239.7" y2="291.4" stroke="#0428a4" stroke-width="0.9"/>
<line x1="243" y1="293" x2="243" y2="291.4" stroke="#0428a4" stroke-width="0.9"/>
<line x1="250" y1="295.9" x2="250" y2="294.29999999999995" stroke="#0428a4" stroke-width="0.9"/>
<line x1="258" y1="304.2" x2="258" y2="302.59999999999997" stroke="#0428a4" stroke-width="0.9"/>
<line x1="280" y1="320.4" x2="280" y2="318.79999999999995" stroke="#0428a4" stroke-width="0.9"/>
<line x1="230.2" y1="304.1" x2="230.2" y2="302.5" stroke="#c8001a" stroke-width="0.9"/>
<line x1="246.3" y1="313.6" x2="246.3" y2="312.0" stroke="#c8001a" stroke-width="0.9"/>
<line x1="248.1" y1="261.3" x2="256.9" y2="261.3" stroke="#0428a4" stroke-width="1.3"/><line x1="252.5" y1="261.3" x2="252.5" y2="259.5" stroke="#0428a4" stroke-width="1"/>
<line x1="248.1" y1="274.3" x2="256.9" y2="274.3" stroke="#c8001a" stroke-width="1.3"/><line x1="252.5" y1="274.3" x2="252.5" y2="272.5" stroke="#c8001a" stroke-width="1"/>
<text x="259.49" y="263.90" font-size="8.1" textLength="54.96" lengthAdjust="spacingAndGlyphs">PD1 WT (n=60)</text>
<text x="259.49" y="276.80" font-size="8.1" textLength="54.92" lengthAdjust="spacingAndGlyphs">PD1 Del (n=29)</text>
<line x1="373.2" y1="249.3" x2="373.2" y2="324.0" stroke="#111" stroke-width="1.3"/>
<line x1="371.5" y1="323.4" x2="485.6" y2="323.4" stroke="#111" stroke-width="1.3"/>
<line x1="370.2" y1="323.30" x2="373.2" y2="323.30" stroke="#111" stroke-width="1.1"/>
<text x="362.36" y="326.05" font-size="8.4" textLength="4.20" lengthAdjust="spacingAndGlyphs">0</text>
<line x1="370.2" y1="289.50" x2="373.2" y2="289.50" stroke="#111" stroke-width="1.1"/>
<text x="358.20" y="292.25" font-size="8.4" textLength="8.40" lengthAdjust="spacingAndGlyphs">50</text>
<line x1="370.2" y1="255.70" x2="373.2" y2="255.70" stroke="#111" stroke-width="1.1"/>
<text x="354.04" y="258.45" font-size="8.4" textLength="12.59" lengthAdjust="spacingAndGlyphs">100</text>
<line x1="372.90" y1="323.4" x2="372.90" y2="326.0" stroke="#111" stroke-width="1.1"/>
<text x="370.73" y="335.30" font-size="7.6" textLength="4.45" lengthAdjust="spacingAndGlyphs">0</text>
<line x1="391.67" y1="323.4" x2="391.67" y2="326.0" stroke="#111" stroke-width="1.1"/>
<line x1="410.45" y1="323.4" x2="410.45" y2="326.0" stroke="#111" stroke-width="1.1"/>
<text x="405.86" y="335.30" font-size="7.6" textLength="8.88" lengthAdjust="spacingAndGlyphs">10</text>
<line x1="429.22" y1="323.4" x2="429.22" y2="326.0" stroke="#111" stroke-width="1.1"/>
<line x1="448.00" y1="323.4" x2="448.00" y2="326.0" stroke="#111" stroke-width="1.1"/>
<text x="443.54" y="335.30" font-size="7.6" textLength="8.88" lengthAdjust="spacingAndGlyphs">20</text>
<line x1="466.77" y1="323.4" x2="466.77" y2="326.0" stroke="#111" stroke-width="1.1"/>
<line x1="485.55" y1="323.4" x2="485.55" y2="326.0" stroke="#111" stroke-width="1.1"/>
<text x="481.09" y="335.30" font-size="7.6" textLength="8.88" lengthAdjust="spacingAndGlyphs">30</text>
<text x="409.02" y="348.40" font-size="10.3" textLength="40.44" lengthAdjust="spacingAndGlyphs">Time (years)</text>
<text transform="translate(352.30,321.78) rotate(-90)" x="0" y="0" font-size="9.8" textLength="71.83" lengthAdjust="spacingAndGlyphs">Probability of survival</text>
<text x="413.96" y="244.90" font-size="8.3" font-style="italic" textLength="5.28" lengthAdjust="spacingAndGlyphs">P</text>
<text x="420.88" y="244.90" font-size="8.3" textLength="5.47" lengthAdjust="spacingAndGlyphs">=</text>
<text x="428.04" y="244.90" font-size="8.3" textLength="15.45" lengthAdjust="spacingAndGlyphs">0.03</text>
<path d="M373.6,255.5 V261.1 H392 V268.8 H424.2 V287.3 H468.6 V285.4" fill="none" stroke="#0428a4" stroke-width="1.5"/>
<path d="M373.4,255.4 H380.5 V289.6 H393.7 V323.4" fill="none" stroke="#c8001a" stroke-width="1.5"/>
<line x1="378" y1="261.1" x2="378" y2="259.5" stroke="#0428a4" stroke-width="0.9"/>
<line x1="382" y1="261.1" x2="382" y2="259.5" stroke="#0428a4" stroke-width="0.9"/>
<line x1="387.7" y1="261.1" x2="387.7" y2="259.5" stroke="#0428a4" stroke-width="0.9"/>
<line x1="397.2" y1="268.8" x2="397.2" y2="267.2" stroke="#0428a4" stroke-width="0.9"/>
<line x1="403.8" y1="268.8" x2="403.8" y2="267.2" stroke="#0428a4" stroke-width="0.9"/>
<line x1="411" y1="268.8" x2="411" y2="267.2" stroke="#0428a4" stroke-width="0.9"/>
<line x1="422.5" y1="268.8" x2="422.5" y2="267.2" stroke="#0428a4" stroke-width="0.9"/>
<line x1="436.3" y1="287.3" x2="436.3" y2="285.7" stroke="#0428a4" stroke-width="0.9"/>
<line x1="407.4" y1="298" x2="416.6" y2="298" stroke="#c8001a" stroke-width="1.3"/><line x1="412" y1="298" x2="412" y2="296.2" stroke="#c8001a" stroke-width="1"/>
<line x1="407.4" y1="311.6" x2="416.6" y2="311.6" stroke="#0428a4" stroke-width="1.3"/><line x1="412" y1="311.6" x2="412" y2="309.8" stroke="#0428a4" stroke-width="1"/>
<text x="418.98" y="300.80" font-size="8.1" textLength="50.83" lengthAdjust="spacingAndGlyphs">PD1 Del (n=2)</text>
<text x="418.98" y="314.60" font-size="8.1" textLength="55.98" lengthAdjust="spacingAndGlyphs">PD1 WT (n=12)</text>
</g>
</svg>
</body></html>
